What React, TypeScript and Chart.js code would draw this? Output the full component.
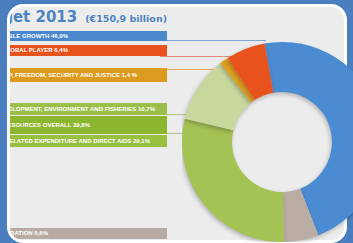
import React, { useEffect, useRef } from "react";
import { Chart, registerables } from "chart.js";

Chart.register(...registerables);

// ---- data ----
const categories = [
  "Sustainable growth",
  "Administration",
  "Market related expenditure and direct aids",
  "Rural development, environment and fisheries",
  "Citizenship, freedom, security and justice",
  "EU as a global player",
];
const shares = [46.9, 5.6, 29.1, 10.7, 1.4, 6.4];
const sliceColors = ["#4a8bd2", "#b9aca4", "#a5c255", "#c8d89d", "#e0a020", "#e8521c"];

const titleMain = "Budget 2013";
const titleSub = "(€150,9 billion)";

const legendLabels = [
  "SUSTAINABLE  GROWTH 46,9%",
  "EU AS A GLOBAL PLAYER 6,4%",
  "CITIZENSHIP, FREEDOM, SECURITY AND JUSTICE 1,4 %",
  "RURAL DEVELOPMENT, ENVIRONMENT AND FISHERIES 10,7%",
  "NATURAL RESOURCES OVERALL 39,8%",
  "MARKET RELATED EXPENDITURE AND DIRECT AIDS 29,1%",
  "ADMINISTRATION 5,6%",
];

// ---- layout (positions / styles) ----
const barLayout = [
  { top: 31, h: 10, color: "#4a87cc", textEnd: 68, line: { y: 40, x2: 266, color: "#7ea6d6" } },
  { top: 45, h: 11, color: "#e8521c", textEnd: 68, line: { y: 56, x2: 233, color: "#e48878" } },
  { top: 68, h: 14, color: "#dc9a1e", textEnd: 137, line: { y: 69, x2: 216, color: "#eaa860" } },
  { top: 103, h: 12, color: "#9bbf4a", textEnd: 155, line: { y: 114, x2: 190, color: "#b7c690" } },
  { top: 116, h: 18, color: "#8cb62e", textEnd: 90, line: { y: 133, x2: 186, color: "#b7c690" } },
  { top: 135, h: 12, color: "#98bf40", textEnd: 150, line: null },
  { top: 228, h: 11, color: "#b8aba3", textEnd: 48, line: null },
];

const W = 353;
const H = 243;

const shadowPlugin = {
  id: "softShadow",
  beforeDatasetsDraw(chart: any) {
    const ctx = chart.ctx;
    ctx.save();
    ctx.shadowColor = "rgba(0,0,0,0.25)";
    ctx.shadowBlur = 4;
    ctx.shadowOffsetX = -1;
    ctx.shadowOffsetY = 2;
  },
  afterDatasetsDraw(chart: any) {
    chart.ctx.restore();
  },
};

function Donut() {
  const ref = useRef<HTMLCanvasElement | null>(null);
  useEffect(() => {
    if (!ref.current) return;
    const chart = new Chart(ref.current, {
      type: "doughnut",
      data: {
        labels: categories,
        datasets: [
          {
            data: shares,
            backgroundColor: sliceColors,
            borderWidth: 0,
          },
        ],
      },
      options: {
        responsive: false,
        animation: false,
        rotation: -10,
        cutout: "50%",
        layout: { padding: 0 },
        plugins: { legend: { display: false }, tooltip: { enabled: false } },
      },
      plugins: [shadowPlugin],
    });
    return () => chart.destroy();
  }, []);
  return (
    <canvas
      ref={ref}
      width={200}
      height={200}
      style={{ position: "absolute", left: 182, top: 42, width: 200, height: 200 }}
    />
  );
}

export default function App() {
  return (
    <div
      style={{
        position: "fixed",
        left: 0,
        top: 0,
        width: W,
        height: H,
        overflow: "hidden",
        background: "#4a7ebe",
        fontFamily: "'DejaVu Sans', sans-serif",
      }}
    >
      <div
        style={{
          position: "absolute",
          left: 7,
          top: 4,
          width: 334,
          height: 233,
          border: "3px solid #ffffff",
          borderRadius: 16,
          background: "#ececec",
          overflow: "hidden",
          boxSizing: "content-box",
        }}
      >
        <div style={{ position: "absolute", left: -10, top: -7, width: W, height: H }}>
          <div
            style={{
              position: "absolute",
              right: W - 167,
              top: 8,
              whiteSpace: "nowrap",
              color: "#4d84bf",
              fontWeight: "bold",
              lineHeight: "18px",
            }}
          >
            <span style={{ fontSize: 15 }}>{titleMain}</span>
            <span style={{ fontSize: 9.5, marginLeft: 8 }}>{titleSub}</span>
          </div>
          {barLayout.map((b, i) => (
            <React.Fragment key={i}>
              {b.line && (
                <div
                  style={{
                    position: "absolute",
                    left: 160,
                    top: b.line.y,
                    width: b.line.x2 - 160,
                    height: 1,
                    background: b.line.color,
                  }}
                />
              )}
              <div
                style={{
                  position: "absolute",
                  left: 0,
                  top: b.top,
                  width: 167,
                  height: b.h,
                  background: b.color,
                }}
              />
              <div
                style={{
                  position: "absolute",
                  right: W - b.textEnd,
                  top: b.top,
                  height: b.h,
                  lineHeight: b.h + "px",
                  whiteSpace: "nowrap",
                  color: "#ffffff",
                  fontFamily: "'Liberation Sans', sans-serif",
                  fontWeight: "bold",
                  fontSize: 6,
                }}
              >
                {legendLabels[i]}
              </div>
            </React.Fragment>
          ))}
        </div>
      </div>
      <Donut />
    </div>
  );
}
